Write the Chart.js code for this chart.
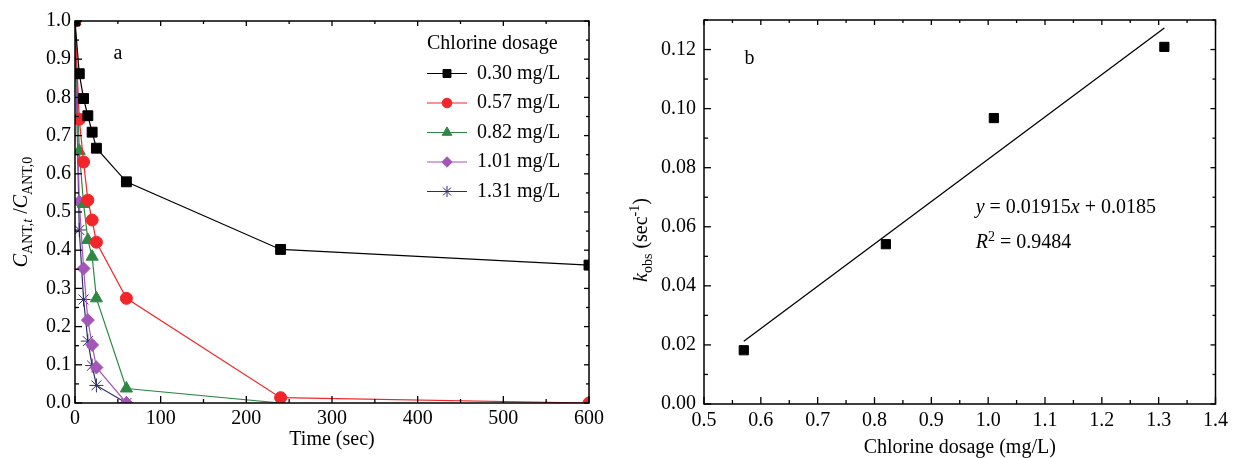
<!DOCTYPE html>
<html>
<head>
<meta charset="utf-8">
<script src="https://cdn.jsdelivr.net/npm/chart.js@4/dist/chart.umd.min.js"></script>
<style>
  html, body { margin: 0; padding: 0; background: #fff; }
  #wrap { position: relative; width: 1233px; height: 458px; }
  #c1 { position: absolute; left: 0; top: 0; }
  #c2 { position: absolute; left: 610px; top: 0; }
</style>
</head>
<body>
<div id="wrap">
  <canvas id="c1" width="610" height="458" style="width:610px;height:458px"></canvas>
  <canvas id="c2" width="623" height="458" style="width:623px;height:458px"></canvas>
</div>
<script>
// panel a: residual ANT vs time, one series per chlorine dose
const times = [0, 5, 10, 15, 20, 25, 60, 240, 600];
const dose030 = [1.0, 0.862, 0.797, 0.752, 0.709, 0.667, 0.579, 0.402, 0.361];
const dose057 = [1.0, 0.743, 0.631, 0.531, 0.479, 0.421, 0.274, 0.014, 0.0];
const dose082 = [1.0, 0.660, 0.521, 0.427, 0.383, 0.274, 0.038, 0.0];
const dose101 = [1.0, 0.527, 0.352, 0.217, 0.152, 0.093, 0.0];
const dose131 = [1.0, 0.453, 0.271, 0.162, 0.098, 0.046, 0.0];
const doseLabels = ['0.30 mg/L', '0.57 mg/L', '0.82 mg/L', '1.01 mg/L', '1.31 mg/L'];

// panel b: kobs vs dosage
const dosages = [0.57, 0.82, 1.01, 1.31];
const kobs = [0.0182, 0.0541, 0.0968, 0.1209];

const FONT = "'Liberation Serif', 'Times New Roman', serif";
Chart.defaults.font.family = FONT;
Chart.defaults.font.size = 20;
Chart.defaults.color = '#000';

const seriesStyle = [
  { color: '#000000', shape: 'rect', r: 7 },
  { color: '#f2262a', shape: 'circle', r: 6 },
  { color: '#2f8744', shape: 'triangle', r: 7 },
  { color: '#a456b8', shape: 'rectRot', r: 6.5 },
  { color: '#2e2d6c', shape: 'star', r: 7 }
];

// least squares fit for the trend line in panel b
function linFit(xs, ys) {
  const n = xs.length;
  const mx = xs.reduce((a, b) => a + b, 0) / n;
  const my = ys.reduce((a, b) => a + b, 0) / n;
  let sxy = 0, sxx = 0;
  for (let i = 0; i < n; i++) { sxy += (xs[i] - mx) * (ys[i] - my); sxx += (xs[i] - mx) ** 2; }
  const m = sxy / sxx;
  return { m, b: my - m * mx };
}

function partFont(p, size) {
  const s = (p.sub || p.sup) ? Math.round(size * 0.68) : size;
  return (p.i ? 'italic ' : '') + s + 'px ' + FONT;
}

// draws text made of runs (italic / subscript / superscript)
function richText(ctx, parts, x, y, align, size) {
  let w = 0;
  parts.forEach(p => { ctx.font = partFont(p, size); w += ctx.measureText(p.t).width; });
  let cx = align === 'center' ? x - w / 2 : x;
  ctx.textAlign = 'left';
  ctx.textBaseline = 'alphabetic';
  const base = y + size * 0.33;
  parts.forEach(p => {
    ctx.font = partFont(p, size);
    let dy = 0;
    if (p.sub) dy = size * 0.28;
    if (p.sup) dy = -size * 0.38;
    ctx.fillText(p.t, cx, base + dy);
    cx += ctx.measureText(p.t).width;
  });
}

function seg(ctx, x1, y1, x2, y2) {
  ctx.beginPath(); ctx.moveTo(x1, y1); ctx.lineTo(x2, y2); ctx.stroke();
}

function marker(ctx, style, r, x, y) {
  if (Chart.helpers && Chart.helpers.drawPoint) {
    Chart.helpers.drawPoint(ctx, { pointStyle: style, radius: r, borderWidth: 1, rotation: 0 }, x, y);
  } else {
    ctx.beginPath(); ctx.arc(x, y, r, 0, Math.PI * 2); ctx.fill();
  }
}

const decor = {
  id: 'decor',
  afterDatasetsDraw(chart, args, o) {
    const { ctx, chartArea: a } = chart;
    const xs = chart.scales.x, ys = chart.scales.y;
    ctx.save();
    ctx.strokeStyle = '#000';
    ctx.lineWidth = 1.5;
    ctx.strokeRect(a.left, a.top, a.right - a.left, a.bottom - a.top);

    // inward ticks on all four sides
    ctx.lineWidth = 1.3;
    const nx = Math.round((xs.max - xs.min) / o.xMinor);
    for (let i = 0; i <= nx; i++) {
      const px = xs.getPixelForValue(xs.min + i * o.xMinor);
      const len = i % 2 === 0 ? 7 : 4;
      seg(ctx, px, a.bottom, px, a.bottom - len);
      seg(ctx, px, a.top, px, a.top + (i % 2 === 0 ? 5 : 3));
    }
    const ny = Math.round((ys.max - ys.min) / o.yMinor + 1e-6);
    for (let i = 0; i <= ny; i++) {
      const py = ys.getPixelForValue(ys.min + i * o.yMinor);
      const len = i % 2 === 0 ? 7 : 4;
      seg(ctx, a.left, py, a.left + len, py);
      seg(ctx, a.right, py, a.right - (i % 2 === 0 ? 5 : 3), py);
    }

    ctx.fillStyle = '#000';
    // annotations placed in data coordinates
    (o.texts || []).forEach(t => {
      richText(ctx, t.parts, xs.getPixelForValue(t.x), ys.getPixelForValue(t.y), t.align, 20);
    });

    // rotated y axis title
    if (o.yTitle) {
      ctx.save();
      ctx.translate(o.yTitle.x, (a.top + a.bottom) / 2 + (o.yTitle.dy || 0));
      ctx.rotate(-Math.PI / 2);
      richText(ctx, o.yTitle.parts, 0, 0, 'center', 20);
      ctx.restore();
    }

    // legend with line + marker samples
    if (o.legend) {
      const L = o.legend;
      ctx.font = '20px ' + FONT;
      ctx.textAlign = 'left';
      ctx.textBaseline = 'middle';
      ctx.fillText(L.title, L.x, L.y);
      chart.data.datasets.forEach((ds, i) => {
        const yy = L.y + L.gap * (i + 1);
        ctx.strokeStyle = ds.borderColor;
        ctx.lineWidth = 1.2;
        seg(ctx, L.x, yy, L.x + 40, yy);
        ctx.fillStyle = ds.pointBackgroundColor;
        ctx.strokeStyle = ds.pointBorderColor;
        ctx.lineWidth = 1;
        marker(ctx, ds.pointStyle, ds.pointRadius * 0.8, L.x + 20, yy);
        ctx.fillStyle = '#000';
        ctx.font = '20px ' + FONT;
        ctx.textAlign = 'left';
        ctx.textBaseline = 'middle';
        ctx.fillText(ds.label, L.x + 50, yy);
      });
    }
    ctx.restore();
  }
};

const plainAxis = {
  grid: { display: false, drawTicks: false },
  border: { display: false }
};

const doseSeries = [dose030, dose057, dose082, dose101, dose131];

new Chart(document.getElementById('c1'), {
  type: 'scatter',
  data: {
    datasets: doseSeries.map((vals, i) => {
      const s = seriesStyle[i];
      return {
        label: doseLabels[i],
        data: vals.map((v, j) => ({ x: times[j], y: v })),
        showLine: true,
        borderColor: s.color,
        backgroundColor: s.color,
        borderWidth: 1.2,
        pointStyle: s.shape,
        pointRadius: s.r,
        pointBackgroundColor: s.color,
        pointBorderColor: s.color,
        pointBorderWidth: 1
      };
    })
  },
  options: {
    responsive: false,
    animation: false,
    events: [],
    layout: { padding: { left: 0, top: 21, right: 21, bottom: 0 } },
    plugins: {
      legend: { display: false },
      tooltip: { enabled: false },
      decor: {
        xMinor: 50,
        yMinor: 0.05,
        texts: [{ parts: [{ t: 'a' }], x: 50, y: 0.918, align: 'center' }],
        yTitle: {
          x: 20,
          dy: 0,
          parts: [{ t: 'C', i: true }, { t: 'ANT,', sub: true }, { t: 't', sub: true, i: true },
                  { t: ' /' }, { t: 'C', i: true }, { t: 'ANT,0', sub: true }]
        },
        legend: { title: 'Chlorine dosage', x: 427, y: 44, gap: 29.5 }
      }
    },
    scales: {
      x: {
        ...plainAxis,
        type: 'linear', min: 0, max: 600,
        ticks: { stepSize: 100, padding: 4, maxRotation: 0 },
        title: { display: true, text: 'Time (sec)', padding: { top: 0, bottom: 6 } },
        afterFit: s => { s.height = 55; }
      },
      y: {
        ...plainAxis,
        min: 0, max: 1,
        ticks: { stepSize: 0.1, padding: 4, callback: v => v.toFixed(1) },
        afterFit: s => { s.width = 75; }
      }
    }
  },
  plugins: [decor]
});

const fit = linFit(dosages, kobs);
const fitX = [Math.min(...dosages), Math.max(...dosages)];

new Chart(document.getElementById('c2'), {
  type: 'scatter',
  data: {
    datasets: [
      {
        label: 'kobs',
        data: dosages.map((d, i) => ({ x: d, y: kobs[i] })),
        pointStyle: 'rect',
        pointRadius: 6.5,
        pointBackgroundColor: '#000',
        pointBorderColor: '#000',
        pointBorderWidth: 1
      },
      {
        label: 'fit',
        data: fitX.map(x => ({ x, y: fit.m * x + fit.b })),
        showLine: true,
        borderColor: '#000',
        borderWidth: 1.3,
        pointRadius: 0
      }
    ]
  },
  options: {
    responsive: false,
    animation: false,
    events: [],
    layout: { padding: { left: 0, top: 20, right: 13, bottom: 0 } },
    plugins: {
      legend: { display: false },
      tooltip: { enabled: false },
      decor: {
        xMinor: 0.05,
        yMinor: 0.01,
        texts: [
          { parts: [{ t: 'b' }], x: 0.58, y: 0.1173, align: 'center' },
          { parts: [{ t: 'y', i: true }, { t: ' = 0.01915' }, { t: 'x', i: true }, { t: ' + 0.0185' }], x: 0.978, y: 0.0668, align: 'left' },
          { parts: [{ t: 'R', i: true }, { t: '2', sup: true }, { t: ' = 0.9484' }], x: 0.978, y: 0.0549, align: 'left' }
        ],
        yTitle: {
          x: 30,
          dy: 28,
          parts: [{ t: 'k', i: true }, { t: 'obs', sub: true }, { t: ' (sec' }, { t: '-1', sup: true }, { t: ')' }]
        }
      }
    },
    scales: {
      x: {
        ...plainAxis,
        type: 'linear', min: 0.5, max: 1.4,
        ticks: { stepSize: 0.1, padding: 5, maxRotation: 0, callback: v => v.toFixed(1) },
        title: { display: true, text: 'Chlorine dosage (mg/L)', font: { lineHeight: 1 }, padding: { top: 0, bottom: 0 } },
        afterFit: s => { s.height = 54; }
      },
      y: {
        ...plainAxis,
        min: 0, max: 0.13,
        ticks: { stepSize: 0.02, padding: 8, includeBounds: false, callback: v => v.toFixed(2) },
        afterFit: s => { s.width = 94; }
      }
    }
  },
  plugins: [decor]
});
</script>
</body>
</html>
